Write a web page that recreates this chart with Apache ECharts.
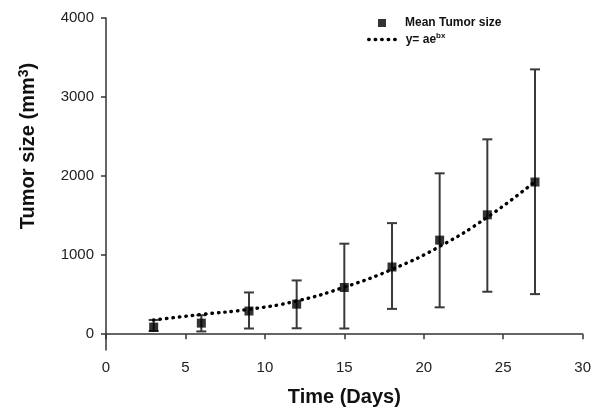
<!DOCTYPE html>
<html>
<head>
<meta charset="utf-8">
<script src="https://cdn.jsdelivr.net/npm/echarts@6/dist/echarts.min.js"></script>
<style>
  html, body { margin: 0; padding: 0; background: #fff; }
  #chart { width: 594px; height: 412px; }
</style>
</head>
<body>
<div id="chart"></div>
<script>
// measurement days
const days = [3, 6, 9, 12, 15, 18, 21, 24, 27]
// mean tumor size (mm3)
const meanSize = [90, 140, 293, 380, 591, 850, 1190, 1510, 1925]
// error bar limits
const errLow = [40, 35, 72, 75, 72, 320, 340, 537, 507]
const errHigh = [180, 240, 528, 680, 1145, 1405, 2035, 2465, 3350]
// exponential fit y = a e^(bx)
const fitSize = [180, 250, 315, 420, 595, 820, 1110, 1480, 1930]

const yTicks = [0, 1000, 2000, 3000, 4000]

const font = 'Liberation Sans, Arial, sans-serif'
const axisColor = '#333'

const chart = echarts.init(document.getElementById('chart'))

const option = {
  backgroundColor: '#fff',
  animation: false,
  grid: { left: 106, right: 11, top: 18, bottom: 60 },
  legend: [
    {
      data: ['Mean Tumor size'],
      left: 378,
      top: 17,
      padding: 0,
      icon: 'rect',
      itemWidth: 8,
      itemHeight: 8,
      textStyle: { fontFamily: font, fontSize: 12, fontWeight: 'bold', color: '#111', padding: [0, 0, 0, 14] }
    },
    {
      data: ['fit'],
      left: 367,
      top: 32,
      padding: 0,
      itemWidth: 32,
      itemHeight: 8,
      // hide the marker the line icon puts in its middle
      itemStyle: { opacity: 0 },
      lineStyle: { width: 3.4 },
      formatter: () => '{n|y= ae}{s|bx}',
      textStyle: {
        fontFamily: font, fontSize: 12, fontWeight: 'bold', color: '#111',
        rich: {
          n: { fontFamily: font, fontSize: 12, fontWeight: 'bold', color: '#111' },
          s: { fontFamily: font, fontSize: 8, fontWeight: 'bold', color: '#111', padding: [0, 0, 7, 0] }
        }
      }
    }
  ],
  xAxis: {
    type: 'value',
    min: 0,
    max: 30,
    interval: 5,
    name: 'Time (Days)',
    nameLocation: 'middle',
    nameGap: 37,
    nameTextStyle: { fontFamily: font, fontSize: 20, fontWeight: 'bold', color: '#111' },
    splitLine: { show: false },
    axisLine: { lineStyle: { color: axisColor, width: 1.5 } },
    axisTick: { show: true, length: 5, lineStyle: { color: axisColor, width: 1.5 } },
    axisLabel: { fontFamily: font, fontSize: 15, color: '#222', margin: 10 }
  },
  yAxis: {
    type: 'value',
    min: -200,
    max: 4000,
    name: '{a|Tumor size (mm}{b|3}{a|)}',
    nameLocation: 'middle',
    nameGap: 66,
    nameRotate: 90,
    nameTextStyle: {
      padding: [0, 0, 0, 76],
      rich: {
        a: { fontFamily: font, fontSize: 20, fontWeight: 'bold', color: '#111' },
        b: { fontFamily: font, fontSize: 14, fontWeight: 'bold', color: '#111', padding: [0, 0, 9, 0] }
      }
    },
    splitLine: { show: false },
    axisLine: { show: true, lineStyle: { color: axisColor, width: 1.5 } },
    axisTick: { show: true, length: 5, customValues: yTicks, lineStyle: { color: axisColor, width: 1.5 } },
    axisLabel: { fontFamily: font, fontSize: 15, color: '#222', margin: 12, customValues: yTicks, formatter: v => String(v) }
  },
  series: [
    {
      name: 'errors',
      type: 'custom',
      z: 2,
      data: days.map((d, i) => [d, errLow[i], errHigh[i]]),
      renderItem: (params, api) => {
        const x = api.value(0)
        const lo = api.coord([x, api.value(1)])
        const hi = api.coord([x, api.value(2)])
        const cap = 5
        const style = { stroke: '#3a3a3a', lineWidth: 2 }
        return {
          type: 'group',
          children: [
            { type: 'line', shape: { x1: lo[0], y1: lo[1], x2: hi[0], y2: hi[1] }, style },
            { type: 'line', shape: { x1: hi[0] - cap, y1: hi[1], x2: hi[0] + cap, y2: hi[1] }, style },
            { type: 'line', shape: { x1: lo[0] - cap, y1: lo[1], x2: lo[0] + cap, y2: lo[1] }, style }
          ]
        }
      }
    },
    {
      name: 'fit',
      type: 'line',
      z: 3,
      smooth: true,
      symbol: 'none',
      showSymbol: false,
      data: days.map((d, i) => [d, fitSize[i]]),
      itemStyle: { color: '#000' },
      lineStyle: { color: '#000', width: 3.4, type: [0.5, 6], cap: 'round' }
    },
    {
      name: 'Mean Tumor size',
      type: 'scatter',
      z: 4,
      symbol: 'rect',
      symbolSize: 9,
      data: days.map((d, i) => [d, meanSize[i]]),
      itemStyle: { color: '#000' }
    }
  ]
}

chart.setOption(option)
</script>
</body>
</html>
